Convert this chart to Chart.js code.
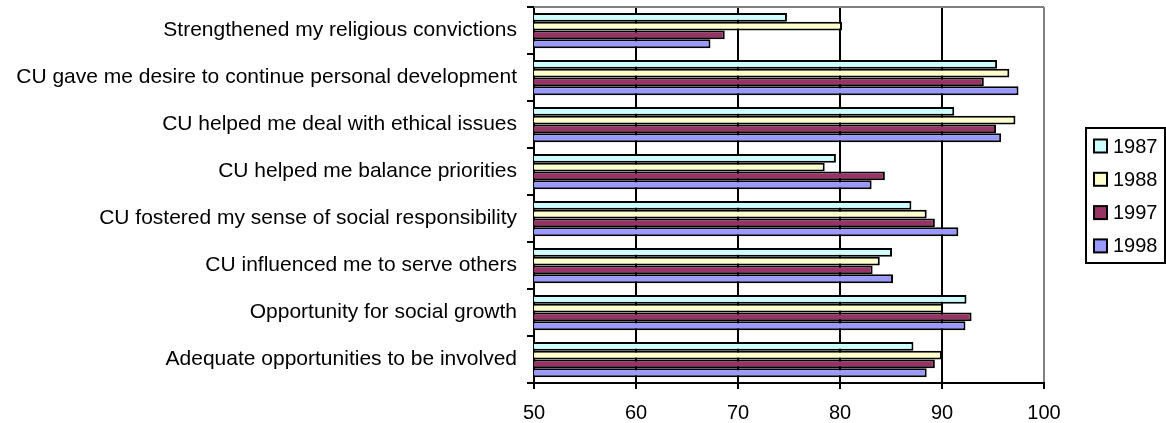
<!DOCTYPE html>
<html lang="en">
<head>
<meta charset="UTF-8">
<title>CU survey</title>
<script src="https://cdn.jsdelivr.net/npm/chart.js"></script>
<style>
  html, body { margin: 0; padding: 0; background: #fff; }
  #wrap { width: 1166px; height: 423px; }
</style>
</head>
<body>
<div id="wrap"><canvas id="myChart" width="1166" height="423"></canvas></div>
<script>
const categories = [
    'Strengthened my religious convictions',
    'CU gave me desire to continue personal development',
    'CU helped me deal with ethical issues',
    'CU helped me balance priorities',
    'CU fostered my sense of social responsibility',
    'CU influenced me to serve others',
    'Opportunity for social growth',
    'Adequate opportunities to be involved'
];
const years = ['1987', '1988', '1997', '1998'];
const values1987 = [74.8, 95.4, 91.2, 79.6, 87.0, 85.1, 92.4, 87.2];
const values1988 = [80.2, 96.6, 97.2, 78.5, 88.5, 83.9, 90.1, 90.0];
const values1997 = [68.7, 94.1, 95.3, 84.4, 89.3, 83.2, 92.9, 89.3];
const values1998 = [67.3, 97.5, 95.8, 83.1, 91.6, 85.2, 92.3, 88.5];
const xTicks = [50, 60, 70, 80, 90, 100];

const colors = ['#CCFFFF', '#FFFFCC', '#993366', '#9999FF'];
const family = "'Liberation Sans', Arial, sans-serif";
const font = { family: family, size: 20 };
const catFont = { family: family, size: 21 };

// grey frame on top of the plot area (Excel style)
const frame = {
    id: 'frame',
    beforeDatasetsDraw(chart) {
        const a = chart.chartArea, c = chart.ctx;
        c.save();
        c.strokeStyle = '#808080';
        c.lineWidth = 2;
        c.beginPath();
        c.moveTo(a.left, a.top);
        c.lineTo(a.right, a.top);
        c.stroke();
        c.restore();
    }
};

// boxed legend on the right
const boxLegend = {
    id: 'boxLegend',
    afterDraw(chart) {
        const c = chart.ctx;
        const x0 = 1086, y0 = 128, x1 = 1165, y1 = 263;
        c.save();
        c.strokeStyle = '#000';
        c.lineWidth = 2;
        c.strokeRect(x0, y0, x1 - x0, y1 - y0);
        c.font = font.size + 'px ' + font.family;
        c.textBaseline = 'middle';
        chart.data.datasets.forEach((ds, i) => {
            const cy = 146 + i * 33.3;
            c.fillStyle = ds.backgroundColor;
            c.fillRect(1094, cy - 6.5, 13, 13);
            c.lineWidth = 2;
            c.strokeRect(1094, cy - 6.5, 13, 13);
            c.fillStyle = '#000';
            c.fillText(ds.label, 1113, cy + 1);
        });
        c.restore();
    }
};

const allValues = [values1987, values1988, values1997, values1998];

const data = {
    labels: categories,
    datasets: years.map((y, i) => ({
        label: y,
        data: allValues[i],
        backgroundColor: colors[i],
        borderColor: '#000',
        borderWidth: 2,
        borderSkipped: false,
        barPercentage: 1.0,
        categoryPercentage: 0.75
    }))
};

new Chart(document.getElementById('myChart').getContext('2d'), {
    type: 'bar',
    data: data,
    plugins: [frame, boxLegend],
    options: {
        indexAxis: 'y',
        responsive: false,
        animation: false,
        layout: { padding: { top: 7, right: 122, left: 0, bottom: 0 } },
        plugins: {
            legend: { display: false },
            tooltip: { enabled: false }
        },
        scales: {
            x: {
                min: 50,
                max: 100,
                afterBuildTicks(axis) {
                    axis.ticks = xTicks.map(v => ({ value: v }));
                },
                afterFit(axis) {
                    axis.height = 40;
                    axis.paddingLeft = 0;
                    axis.paddingRight = 0;
                },
                grid: {
                    color: ctx => (ctx.tick && ctx.tick.value === 100) ? '#808080' : '#000',
                    tickColor: '#000',
                    lineWidth: 2,
                    tickLength: 6
                },
                border: { color: '#000', width: 2 },
                ticks: { color: '#000', font: font, padding: 12 }
            },
            y: {
                afterFit(axis) {
                    axis.width = 534;
                    axis.paddingTop = 0;
                    axis.paddingBottom = 0;
                },
                grid: {
                    drawOnChartArea: false,
                    color: '#000',
                    lineWidth: 2,
                    tickLength: 7,
                    offset: true
                },
                border: { color: '#000', width: 2 },
                ticks: { color: '#000', font: catFont, padding: 10 }
            }
        }
    }
});
</script>
</body>
</html>
